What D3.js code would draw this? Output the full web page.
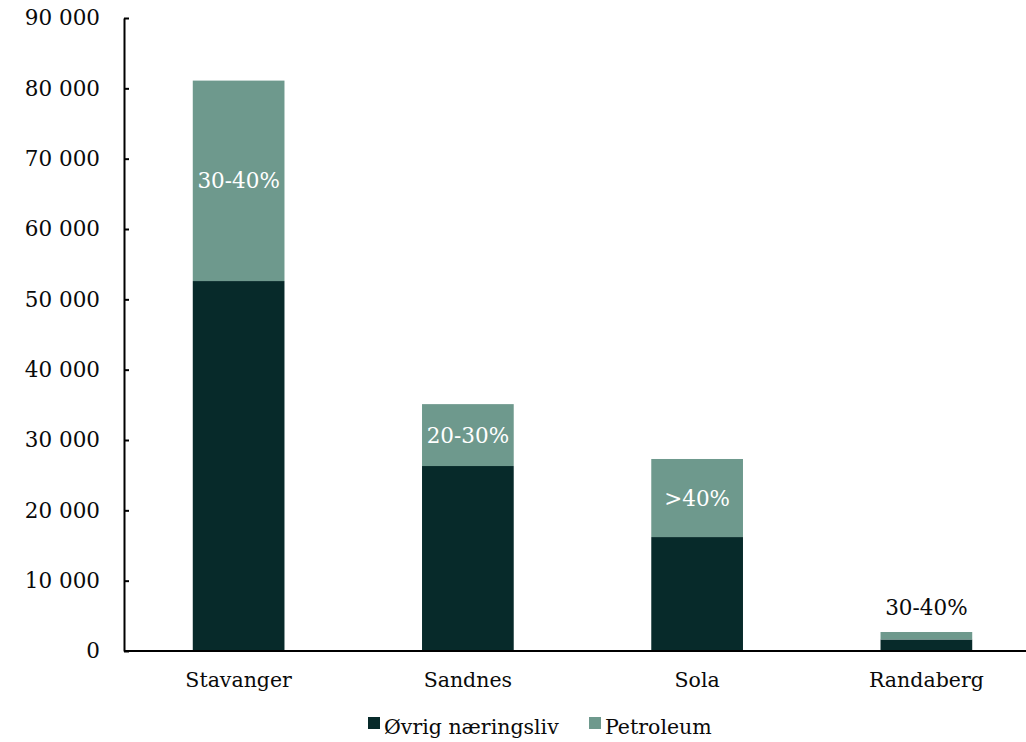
<!DOCTYPE html>
<html>
<head>
<meta charset="utf-8">
<script src="https://cdn.jsdelivr.net/npm/d3@7"></script>
<style>
  html, body { margin: 0; padding: 0; background: #fff; overflow: hidden; }
  svg { display: block; font-family: "DejaVu Serif", serif; }
</style>
</head>
<body>
<svg id="chart" width="1026" height="742"></svg>
<script>
// Sysselsatte per kommune, fordelt på petroleum og øvrig næringsliv
const kommuner = ["Stavanger", "Sandnes", "Sola", "Randaberg"];
const ovrig = [52600, 26300, 16200, 1640];
const petroleum = [28500, 8800, 11100, 1060];
const andelTekst = ["30-40%", "20-30%", ">40%", "30-40%"];
const yTicks = [0, 10000, 20000, 30000, 40000, 50000, 60000, 70000, 80000, 90000];
const serier = ["Øvrig næringsliv", "Petroleum"];
const farger = ["#072a2a", "#6e998d"];

const svg = d3.select("#chart");
const margin = { left: 124, top: 18, bottom: 91 };
const W = 1026, H = 742;
const plotBottom = H - margin.bottom;
const tallFont = 21.5, ordFont = 20.5;

const x = d3.scaleBand().domain(kommuner).range([margin.left, 1041]).paddingInner(0.6).paddingOuter(0.3);
const y = d3.scaleLinear().domain([0, 90000]).range([plotBottom, margin.top]);

const rows = kommuner.map((k, i) => ({ kommune: k, ovrig: ovrig[i], petroleum: petroleum[i], tekst: andelTekst[i] }));
const stack = d3.stack().keys(["ovrig", "petroleum"])(rows);

const g = svg.append("g");
stack.forEach((layer, li) => {
  g.selectAll(null).data(layer).enter().append("rect")
    .attr("x", d => x(d.data.kommune))
    .attr("width", x.bandwidth())
    .attr("y", d => y(d[1]))
    .attr("height", d => y(d[0]) - y(d[1]))
    .attr("fill", farger[li]);
});

// Andel petroleum: inne i segmentet, eller over søylen når segmentet er for lavt
const petroLag = stack[1];
const segH = d => y(d[0]) - y(d[1]);
g.selectAll(null).data(petroLag).enter().append("text")
  .attr("x", d => x(d.data.kommune) + x.bandwidth() / 2)
  .attr("y", d => segH(d) > 40 ? (y(d[0]) + y(d[1])) / 2 : y(d[1]) - 25)
  .attr("dy", "0.35em")
  .attr("text-anchor", "middle")
  .attr("font-size", tallFont)
  .attr("fill", d => segH(d) > 40 ? "#ffffff" : "#0a0a0a")
  .text(d => d.data.tekst);

// Y-akse
const yAxis = d3.axisLeft(y).tickValues(yTicks).tickSizeInner(-5).tickSizeOuter(0).tickPadding(24)
  .tickFormat(d => d3.format(",")(d).replace(/,/g, " "));
const ya = svg.append("g").attr("transform", `translate(${margin.left},0)`).call(yAxis);
ya.select(".domain").attr("stroke", "#000").attr("stroke-width", 2);
ya.selectAll(".tick line").attr("stroke", "#000").attr("stroke-width", 2);
ya.selectAll(".tick text").attr("font-size", tallFont).attr("fill", "#0a0a0a").attr("font-family", "DejaVu Serif, serif");

// X-akse
const xAxis = d3.axisBottom(x).tickSize(0).tickPadding(21);
const xa = svg.append("g").attr("transform", `translate(0,${plotBottom})`).call(xAxis);
xa.select(".domain").attr("stroke", "#000").attr("stroke-width", 2).attr("d", `M${margin.left},0H${W}`);
xa.selectAll(".tick text").attr("font-size", ordFont).attr("fill", "#0a0a0a").attr("font-family", "DejaVu Serif, serif");

// Forklaring
const legend = svg.append("g").attr("transform", "translate(368,728)");
const items = [{ navn: serier[0], farge: farger[0], x: 0 }, { navn: serier[1], farge: farger[1], x: 221 }];
items.forEach(it => {
  const lg = legend.append("g").attr("transform", `translate(${it.x},0)`);
  lg.append("rect").attr("x", 0).attr("y", -11).attr("width", 12).attr("height", 12).attr("fill", it.farge);
  lg.append("text").attr("x", 16).attr("y", 0).attr("dy", "0.3em").attr("font-size", ordFont).attr("fill", "#0a0a0a").text(it.navn);
});
</script>
</body>
</html>
